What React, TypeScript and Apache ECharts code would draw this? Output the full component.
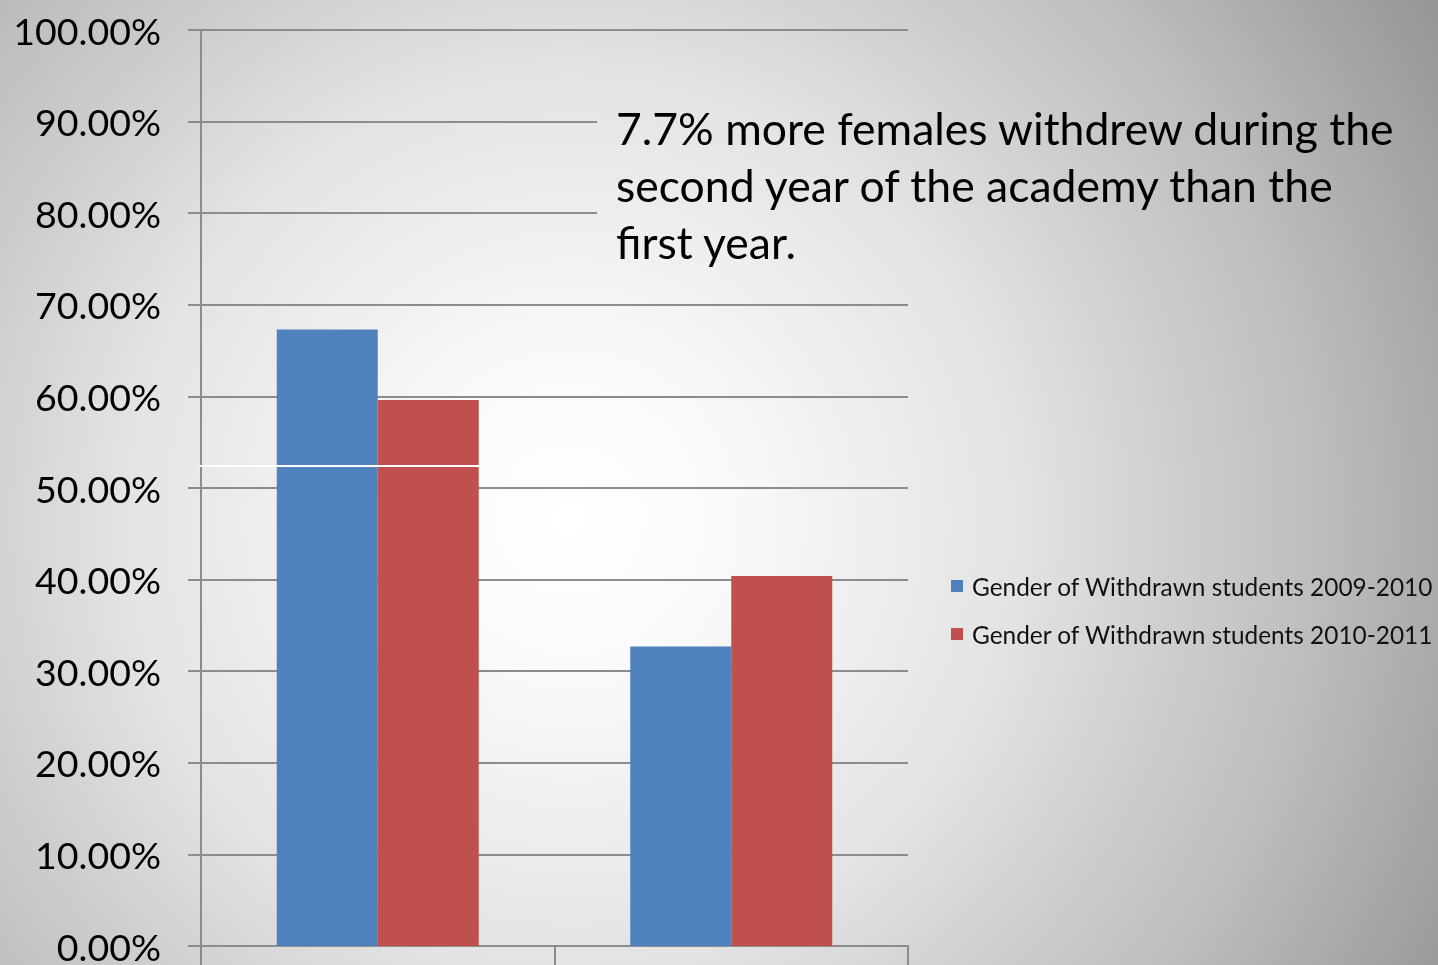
import React, { useEffect, useRef } from "react";
import * as echarts from "echarts";

const categories = ["Male", "Female"];
const withdrawn2009_2010 = [67.3, 32.7];
const withdrawn2010_2011 = [59.6, 40.4];
const seriesNames = [
  "Gender of Withdrawn students 2009-2010",
  "Gender of Withdrawn students 2010-2011",
];
const annotation =
  "7.7% more females withdrew during the\nsecond year of the academy than the\nfirst year.";

const bgGradient = () => ({
  type: "radial",
  x: 570,
  y: 520,
  r: 1000,
  global: true,
  colorStops: [
    { offset: 0, color: "#ffffff" },
    { offset: 0.15, color: "#fafafa" },
    { offset: 0.45, color: "#e3e3e3" },
    { offset: 0.6, color: "#cfcfcf" },
    { offset: 0.75, color: "#bdbdbd" },
    { offset: 0.9, color: "#a6a6a6" },
    { offset: 1, color: "#979797" },
  ],
});

export default function App() {
  const ref = useRef<HTMLDivElement>(null);
  useEffect(() => {
    if (!ref.current) return;
    const chart = echarts.init(ref.current, null, { renderer: "svg" });
    const font = "Lato";
    chart.setOption({
      animation: false,
      backgroundColor: bgGradient(),
      textStyle: { fontFamily: font },
      grid: { left: 201, right: 530, top: 30, bottom: 14, containLabel: false },
      legend: {
        orient: "vertical",
        left: 951,
        top: 574,
        padding: 0,
        icon: "rect",
        itemWidth: 12,
        itemHeight: 12,
        itemGap: 24,
        textStyle: { fontSize: 24.4, color: "#111", fontFamily: font, lineHeight: 24, padding: [0, 0, 0, 4] },
        data: seriesNames,
      },
      xAxis: {
        type: "category",
        data: categories,
        axisLine: { show: true, lineStyle: { color: "#8c8c8c", width: 2 } },
        axisTick: { show: true, length: 20, lineStyle: { color: "#8c8c8c", width: 2 } },
        axisLabel: { show: false },
      },
      yAxis: {
        type: "value",
        min: 0,
        max: 100,
        interval: 10,
        axisLine: { show: true, lineStyle: { color: "#8c8c8c", width: 2 } },
        axisTick: { show: true, inside: false, length: 13, lineStyle: { color: "#8c8c8c", width: 2 } },
        splitLine: { show: true, lineStyle: { color: "#8c8c8c", width: 2 } },
        axisLabel: {
          margin: 40,
          fontSize: 37.5,
          color: "#000",
          fontFamily: font,
          formatter: (v: number) => v.toFixed(2) + "%",
        },
      },
      series: [
        {
          name: seriesNames[0],
          type: "bar",
          data: withdrawn2009_2010,
          barWidth: 101,
          barGap: "0%",
          itemStyle: { color: "#4F81BD" },
        },
        {
          name: seriesNames[1],
          type: "bar",
          data: withdrawn2010_2011,
          barWidth: 101,
          barGap: "0%",
          itemStyle: { color: "#C0504D" },
        },
      ],
      graphic: [
        {
          type: "rect",
          z: 50,
          silent: true,
          shape: { x: 597, y: 95, width: 314, height: 195 },
          style: { fill: bgGradient() },
        },
        {
          type: "text",
          z: 51,
          x: 616,
          y: 99,
          style: {
            text: annotation,
            font: `44.5px ${font}`,
            fill: "#000",
            lineHeight: 57,
            verticalAlign: "top",
            align: "left",
          },
        },
        {
          type: "line",
          z: 60,
          silent: true,
          shape: { x1: 199, y1: 466, x2: 480, y2: 466 },
          style: { stroke: "#ffffff", lineWidth: 2 },
        },
      ],
    });
    return () => chart.dispose();
  }, []);
  return <div ref={ref} style={{ width: 1438, height: 965, position: "fixed", left: 0, top: 0 }} />;
}
